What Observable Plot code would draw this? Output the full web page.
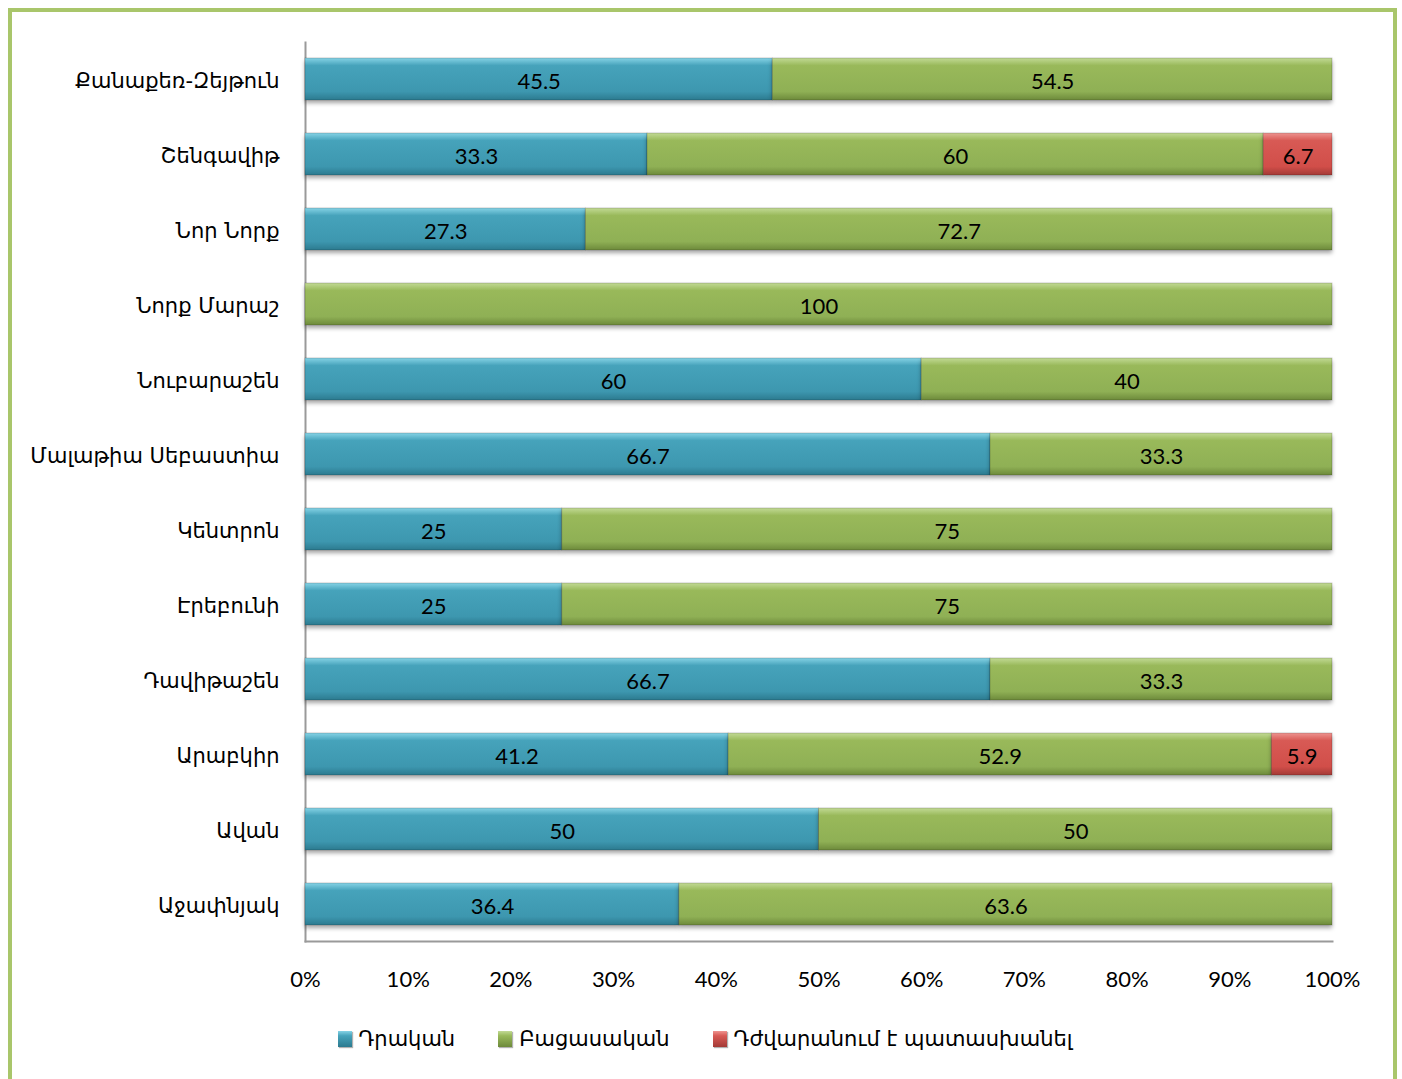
<!DOCTYPE html>
<html>
<head>
<meta charset="utf-8">
<script src="https://cdn.jsdelivr.net/npm/d3@7"></script>
<script src="https://cdn.jsdelivr.net/npm/@observablehq/plot@0.6"></script>
<style>
  body { margin: 0; background: #fff; font-family: Lato, "DejaVu Sans", sans-serif; }
  #frame { position: absolute; left: 8px; top: 8px; width: 1381px; height: 1120px; border: 4px solid #A9C66B; border-bottom: none; }
  #chart { position: absolute; left: 0; top: 0; }
  #legend { position: absolute; top: 1027px; left: 0; width: 1402px; display: flex; justify-content: center; gap: 43px; font-family: "DejaVu Sans", sans-serif; font-size: 21px; color: #000; padding-left: 8px; box-sizing: border-box; }
  #legend .item { display: flex; align-items: center; gap: 7px; }
  #legend .sw { width: 14px; height: 16px; display: inline-block; box-shadow: 1px 1px 1px rgba(0,0,0,0.3); }
  .bars rect { filter: drop-shadow(0px 3px 2px rgba(0,0,0,0.35)); }
</style>
</head>
<body>
<div id="frame"></div>
<div id="chart"></div>
<div id="legend"></div>
<script>
const districts = ["Քանաքեռ-Զեյթուն", "Շենգավիթ", "Նոր Նորք", "Նորք Մարաշ", "Նուբարաշեն", "Մալաթիա Սեբաստիա", "Կենտրոն", "Էրեբունի", "Դավիթաշեն", "Արաբկիր", "Ավան", "Աջափնյակ"];
const answers = ["Դրական", "Բացասական", "Դժվարանում է պատասխանել"];
const positive  = [45.5, 33.3, 27.3, 0, 60, 66.7, 25, 25, 66.7, 41.2, 50, 36.4];
const negative  = [54.5, 60, 72.7, 100, 40, 33.3, 75, 75, 33.3, 52.9, 50, 63.6];
const difficult = [0, 6.7, 0, 0, 0, 0, 0, 0, 0, 5.9, 0, 0];
const xTicks = [0, 10, 20, 30, 40, 50, 60, 70, 80, 90, 100];
const gradIds = ["gBlue", "gGreen", "gRed"];
const gradStops = [
  ["#86D3E6", "#46A3BB", "#3D97AF", "#2C7A8F"],
  ["#C2DA95", "#99B95A", "#8FB055", "#6D8A3B"],
  ["#EE9490", "#D85A55", "#D14E49", "#A33A36"]
];

const series = [positive, negative, difficult];
const rows = [];
districts.forEach((d, i) => {
  answers.forEach((a, j) => {
    rows.push({district: d, answer: a, value: series[j][i]});
  });
});
const nonZero = rows.filter(r => r.value > 0);

const chart = Plot.plot({
  width: 1402,
  height: 1000,
  marginLeft: 305,
  marginRight: 70,
  marginTop: 42,
  marginBottom: 59,
  style: { fontFamily: "Lato, 'DejaVu Sans', sans-serif", background: "transparent" },
  x: { domain: [0, 100] },
  y: { domain: districts, paddingInner: 0.44, paddingOuter: 0.2, label: null },
  color: { domain: answers, range: gradIds.map(id => `url(#${id})`) },
  marks: [
    Plot.frame({ anchor: "left", stroke: "#9A9A9A", strokeWidth: 2 }),
    Plot.frame({ anchor: "bottom", stroke: "#9A9A9A", strokeWidth: 2 }),
    Plot.barX(nonZero, Plot.stackX({ x: "value", y: "district", fill: "answer", z: "answer", order: answers, className: "bars", stroke: "rgba(0,0,0,0.18)", strokeWidth: 1 })),
    Plot.text(nonZero, Plot.stackX({ x: "value", y: "district", z: "answer", order: answers, text: d => String(d.value), fontSize: 22, dy: 2, fill: "#000", fontFamily: "Lato, sans-serif" })),
    Plot.axisX({ ticks: xTicks, tickFormat: d => d + "%", tickSize: 0, tickPadding: 30, fontSize: 22, label: null, fontFamily: "Lato, sans-serif", fill: "#000" }),
    Plot.axisY({ tickSize: 0, tickPadding: 26, fontSize: 21, dy: 2, label: null, fontFamily: "'DejaVu Sans', sans-serif", fill: "#000" })
  ]
});

// gradient definitions for bevel-like fills
const ns = "http://www.w3.org/2000/svg";
const defs = document.createElementNS(ns, "defs");
gradIds.forEach((id, k) => {
  const g = document.createElementNS(ns, "linearGradient");
  g.setAttribute("id", id);
  g.setAttribute("x1", "0"); g.setAttribute("y1", "0");
  g.setAttribute("x2", "0"); g.setAttribute("y2", "1");
  const offs = [0, 0.18, 0.8, 1];
  gradStops[k].forEach((c, m) => {
    const s = document.createElementNS(ns, "stop");
    s.setAttribute("offset", offs[m]);
    s.setAttribute("stop-color", c);
    g.appendChild(s);
  });
  defs.appendChild(g);
});
chart.insertBefore(defs, chart.firstChild);
document.getElementById("chart").appendChild(chart);

// legend
const legend = document.getElementById("legend");
answers.forEach((a, k) => {
  const item = document.createElement("span");
  item.className = "item";
  const sw = document.createElement("span");
  sw.className = "sw";
  sw.style.background = `linear-gradient(${gradStops[k][0]}, ${gradStops[k][1]} 30%, ${gradStops[k][3]})`;
  const t = document.createElement("span");
  t.textContent = a;
  item.appendChild(sw);
  item.appendChild(t);
  legend.appendChild(item);
});
</script>
</body>
</html>
